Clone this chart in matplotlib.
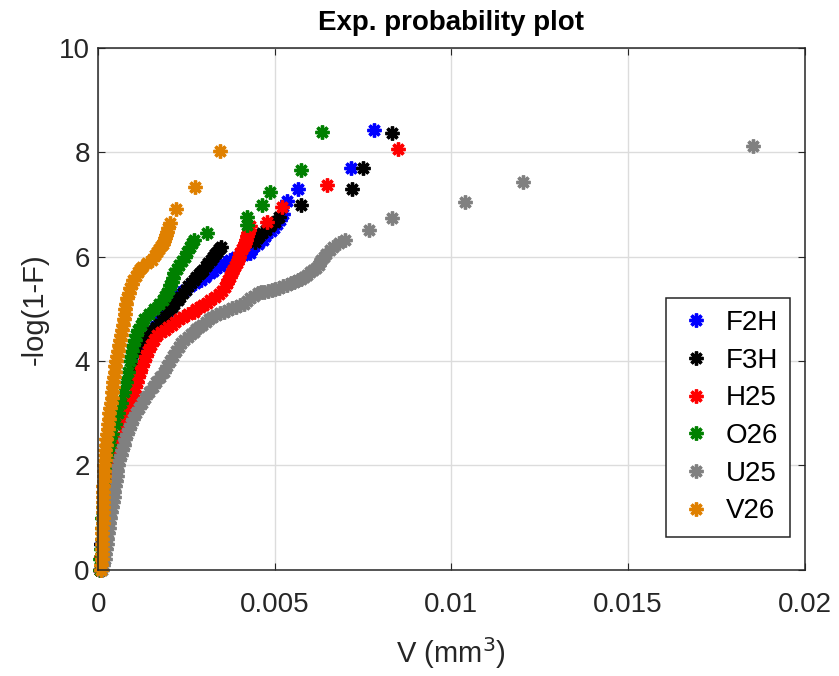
import numpy as np
import matplotlib.pyplot as plt

plt.rcParams['font.family'] = ['Liberation Sans', 'DejaVu Sans']

# Data: y = -log(1-F), x = V (mm^3)
f2h_y = [0.0, 0.5, 1.0, 1.5, 2.0, 2.5, 3.0, 3.3, 3.6, 3.9, 4.2, 4.4, 4.55, 4.65, 4.75, 4.85,
         4.95, 5.05, 5.12, 5.18, 5.24, 5.3, 5.36, 5.43, 5.49, 5.55, 5.62, 5.68, 5.73, 5.78,
         5.83, 5.88, 5.94, 6.0, 6.04, 6.07, 6.13, 6.19, 6.25, 6.32, 6.39, 6.45, 6.5, 6.55,
         6.62, 6.7, 6.81, 7.06, 7.29, 7.70, 8.42]
f2h_x = [0.00004, 0.00009, 0.00013, 0.00018, 0.00025, 0.0004, 0.0007, 0.00082, 0.00095, 0.00108,
         0.0012, 0.00135, 0.0015, 0.0016, 0.0017, 0.00182, 0.00195, 0.00205, 0.0021, 0.00216,
         0.00222, 0.0023, 0.00245, 0.0026, 0.00275, 0.0029, 0.00303, 0.00317, 0.00326, 0.00335,
         0.00345, 0.00355, 0.00373, 0.0039, 0.0041, 0.0043, 0.00434, 0.00438, 0.00452, 0.00468,
         0.00472, 0.00478, 0.00488, 0.00497, 0.00506, 0.00515, 0.00524, 0.00534, 0.00565, 0.00715,
         0.00781]

f3h_y = [0.0, 0.5, 1.0, 1.5, 2.0, 2.5, 3.0, 3.3, 3.6, 3.9, 4.15, 4.37, 4.46, 4.55, 4.6, 4.66,
         4.72, 4.79, 4.85, 4.92, 4.98, 5.04, 5.1, 5.17, 5.23, 5.3, 5.36, 5.43, 5.5, 5.56, 5.61,
         5.66, 5.71, 5.75, 5.82, 5.88, 5.94, 6.0, 6.05, 6.1, 6.15, 6.19, 6.29, 6.35, 6.39, 6.45,
         6.52, 6.58, 6.67, 6.77, 6.99, 7.29, 7.70, 8.38]
f3h_x = [0.00004, 0.00009, 0.00013, 0.00018, 0.00025, 0.0004, 0.00068, 0.0008, 0.00092, 0.00105,
         0.00118, 0.00133, 0.00141, 0.0015, 0.00157, 0.00165, 0.00172, 0.0018, 0.00188, 0.00195,
         0.00202, 0.00208, 0.00216, 0.00225, 0.00233, 0.00241, 0.00248, 0.00255, 0.00262, 0.0027,
         0.00278, 0.00285, 0.00292, 0.00298, 0.00305, 0.00312, 0.00319, 0.00326, 0.00331, 0.00336,
         0.00341, 0.00347, 0.00444, 0.00449, 0.00454, 0.00465, 0.00476, 0.00487, 0.005, 0.00512,
         0.00575, 0.00718, 0.0075, 0.00831]

h25_y = [0.0, 0.25, 0.5, 0.75, 1.0, 1.25, 1.5, 1.75, 2.0, 2.2, 2.4, 2.5, 2.62, 2.75, 2.9, 3.0,
         3.1, 3.2, 3.3, 3.4, 3.5, 3.6, 3.7, 3.8, 3.9, 4.0, 4.1, 4.2, 4.3, 4.4, 4.5, 4.55, 4.6,
         4.65, 4.7, 4.75, 4.8, 4.85, 4.9, 4.95, 5.0, 5.04, 5.08, 5.12, 5.17, 5.22, 5.28, 5.35,
         5.42, 5.49, 5.56, 5.62, 5.7, 5.75, 5.82, 5.88, 5.94, 6.0, 6.07, 6.14, 6.2, 6.26, 6.32,
         6.39, 6.45, 6.52, 6.58, 6.67, 6.96, 7.38, 8.06]
h25_x = [0.00005, 0.00009, 0.00013, 0.00017, 0.00021, 0.00025, 0.0003, 0.00035, 0.0004, 0.00046,
         0.00055, 0.00062, 0.00072, 0.00076, 0.0008, 0.00083, 0.00087, 0.00092, 0.00097, 0.00101,
         0.00105, 0.0011, 0.00114, 0.00119, 0.00124, 0.0013, 0.00136, 0.00142, 0.0015, 0.00158,
         0.00167, 0.00178, 0.00188, 0.00198, 0.00208, 0.00218, 0.0023, 0.00241, 0.00255, 0.0027,
         0.00278, 0.00287, 0.00298, 0.00308, 0.00318, 0.00332, 0.00342, 0.00352, 0.00358, 0.00364,
         0.00368, 0.00372, 0.00378, 0.00383, 0.00387, 0.00392, 0.00395, 0.00398, 0.00402, 0.00407,
         0.00412, 0.00415, 0.00418, 0.00422, 0.00425, 0.00428, 0.0043, 0.00477, 0.0052, 0.00649,
         0.0085]

o26_y = [0.0, 0.2, 0.4, 0.6, 0.8, 1.0, 1.2, 1.4, 1.6, 1.8, 2.0, 2.2, 2.4, 2.6, 2.8, 3.0, 3.2,
         3.4, 3.6, 3.8, 4.0, 4.1, 4.2, 4.3, 4.4, 4.5, 4.6, 4.7, 4.8, 4.9, 5.0, 5.1, 5.17, 5.24,
         5.3, 5.38, 5.45, 5.52, 5.6, 5.68, 5.76, 5.84, 5.92, 6.0, 6.1, 6.18, 6.26, 6.32, 6.45,
         6.61, 6.77, 6.99, 7.25, 7.66, 8.39]
o26_x = [0.00004, 0.00006, 0.00008, 0.0001, 0.00011, 0.00012, 0.00014, 0.00016, 0.00018, 0.0002,
         0.00023, 0.00027, 0.00033, 0.0004, 0.00048, 0.00056, 0.00065, 0.00072, 0.00078, 0.00085,
         0.0009, 0.00094, 0.00097, 0.001, 0.00103, 0.00107, 0.00112, 0.0012, 0.0013, 0.00143,
         0.00157, 0.00172, 0.00183, 0.0019, 0.00195, 0.002, 0.00204, 0.00208, 0.00212, 0.00216,
         0.00222, 0.0023, 0.00238, 0.00245, 0.00252, 0.0026, 0.00266, 0.0027, 0.00308, 0.0042,
         0.0042, 0.00463, 0.00487, 0.00573, 0.00633]

u25_y = [0.0, 0.1, 0.2, 0.3, 0.4, 0.5, 0.6, 0.7, 0.8, 0.9, 1.0, 1.1, 1.2, 1.3, 1.4, 1.5, 1.6,
         1.7, 1.8, 1.9, 2.0, 2.1, 2.2, 2.3, 2.4, 2.5, 2.6, 2.7, 2.8, 2.9, 3.0, 3.1, 3.2, 3.3,
         3.4, 3.5, 3.6, 3.7, 3.8, 3.9, 4.0, 4.1, 4.2, 4.27, 4.34, 4.4, 4.47, 4.52, 4.56, 4.61,
         4.66, 4.7, 4.75, 4.8, 4.85, 4.88, 4.92, 4.95, 4.98, 5.01, 5.04, 5.07, 5.1, 5.15, 5.2,
         5.25, 5.3, 5.32, 5.33, 5.35, 5.36, 5.38, 5.4, 5.43, 5.46, 5.49, 5.52, 5.55, 5.58, 5.62,
         5.65, 5.7, 5.74, 5.79, 5.84, 5.89, 5.94, 6.0, 6.05, 6.12, 6.19, 6.26, 6.33, 6.51, 6.74,
         7.04, 7.44, 8.12]
u25_x = [0.00012, 0.00015, 0.00018, 0.0002, 0.00022, 0.00024, 0.00026, 0.00028, 0.0003, 0.00032,
         0.00034, 0.00036, 0.00039, 0.00041, 0.00044, 0.00046, 0.00048, 0.0005, 0.00052, 0.00054,
         0.00057, 0.0006, 0.00064, 0.00068, 0.00073, 0.00077, 0.00082, 0.00088, 0.00094, 0.001,
         0.00107, 0.00115, 0.00124, 0.00133, 0.00143, 0.00154, 0.00165, 0.00176, 0.00187, 0.00195,
         0.00203, 0.00211, 0.0022, 0.00228, 0.00235, 0.00244, 0.00255, 0.00263, 0.00272, 0.00278,
         0.00285, 0.00295, 0.00305, 0.00313, 0.00322, 0.00333, 0.00345, 0.00356, 0.00368, 0.00379,
         0.0039, 0.00401, 0.00412, 0.00421, 0.0043, 0.00441, 0.00452, 0.00461, 0.0047, 0.00481,
         0.00492, 0.00502, 0.00512, 0.00523, 0.00534, 0.00545, 0.00555, 0.00565, 0.00575, 0.00583,
         0.0059, 0.006, 0.00608, 0.00616, 0.00624, 0.00628, 0.00632, 0.00639, 0.00645, 0.00655,
         0.00666, 0.00682, 0.00699, 0.00768, 0.00831, 0.01038, 0.01203, 0.01854]

v26_y = [0.0, 0.1, 0.2, 0.3, 0.4, 0.5, 0.6, 0.7, 0.8, 0.9, 1.0, 1.1, 1.2, 1.3, 1.4, 1.5, 1.6,
         1.7, 1.8, 1.9, 2.0, 2.1, 2.2, 2.3, 2.4, 2.5, 2.6, 2.7, 2.8, 2.9, 3.0, 3.1, 3.2, 3.3,
         3.4, 3.5, 3.6, 3.7, 3.8, 3.9, 4.0, 4.1, 4.2, 4.3, 4.4, 4.5, 4.6, 4.7, 4.8, 4.9, 5.0,
         5.1, 5.2, 5.3, 5.4, 5.48, 5.56, 5.63, 5.7, 5.76, 5.81, 5.88, 5.94, 6.03, 6.1, 6.15,
         6.2, 6.25, 6.3, 6.36, 6.42, 6.48, 6.56, 6.64, 6.91, 7.33, 8.02]
v26_x = [0.00008, 0.00009, 0.0001, 0.0001, 0.00011, 0.00011, 0.00012, 0.00012, 0.00012, 0.00013,
         0.00013, 0.00013, 0.00014, 0.00014, 0.00015, 0.00015, 0.00015, 0.00016, 0.00016, 0.00017,
         0.00017, 0.00018, 0.00019, 0.0002, 0.00021, 0.00023, 0.00025, 0.00027, 0.00029, 0.0003,
         0.00032, 0.00034, 0.00036, 0.00038, 0.0004, 0.00041, 0.00043, 0.00045, 0.00047, 0.00049,
         0.00051, 0.00053, 0.00056, 0.00058, 0.00061, 0.00064, 0.00067, 0.0007, 0.00072, 0.00075,
         0.00077, 0.0008, 0.00083, 0.00086, 0.0009, 0.00095, 0.001, 0.00106, 0.00112, 0.00118,
         0.00124, 0.00138, 0.00152, 0.00161, 0.00167, 0.00172, 0.00178, 0.00183, 0.00187, 0.0019,
         0.00193, 0.00196, 0.00199, 0.00202, 0.0022, 0.00275, 0.00345]

names = ["F2H", "F3H", "H25", "O26", "U25", "V26"]
xs = [f2h_x, f3h_x, h25_x, o26_x, u25_x, v26_x]
ys = [f2h_y, f3h_y, h25_y, o26_y, u25_y, v26_y]
colors = ["#0000ff", "#000000", "#ff0000", "#008000", "#808080", "#df8000"]

fig = plt.figure(figsize=(8.39, 6.76), dpi=100)
ax = fig.add_axes([0.117, 0.157, 0.842, 0.772])

for name, x, y, c in zip(names, xs, ys, colors):
    ax.plot(x, y, linestyle="none", marker=(8, 2, 0), markersize=10,
            markeredgewidth=2.4, color=c, label=name, clip_on=False)

ax.set_xlim(0, 0.02)
ax.set_ylim(0, 10)
ax.set_xticks([0, 0.005, 0.01, 0.015, 0.02])
ax.set_xticklabels(["0", "0.005", "0.01", "0.015", "0.02"])
ax.set_yticks(np.arange(0, 11, 2))

ax.grid(True, color="#dcdcdc", linewidth=1)
ax.set_axisbelow(True)
ax.tick_params(direction="in", length=5, labelsize=20, colors="#262626",
               top=True, right=True)
ax.tick_params(axis="x", pad=16)
ax.tick_params(axis="y", pad=6)
for s in ax.spines.values():
    s.set_color("#262626")
    s.set_linewidth(1.1)

ax.set_title("Exp. probability plot", fontsize=20, fontweight="bold", pad=13)
ax.set_xlabel("V (mm$^3$)", fontsize=21, color="#262626", labelpad=12)
ax.set_ylabel("-log(1-F)", fontsize=21, color="#262626", labelpad=7)

leg = ax.legend(loc="lower right", bbox_to_anchor=(0.98, 0.063), fontsize=20,
                fancybox=False, edgecolor="#262626", framealpha=1,
                handletextpad=0.4, labelspacing=0.42, borderpad=0.45,
                handlelength=1.3, borderaxespad=0)
leg.get_frame().set_linewidth(1.1)

fig.savefig("out.png", dpi=100)
